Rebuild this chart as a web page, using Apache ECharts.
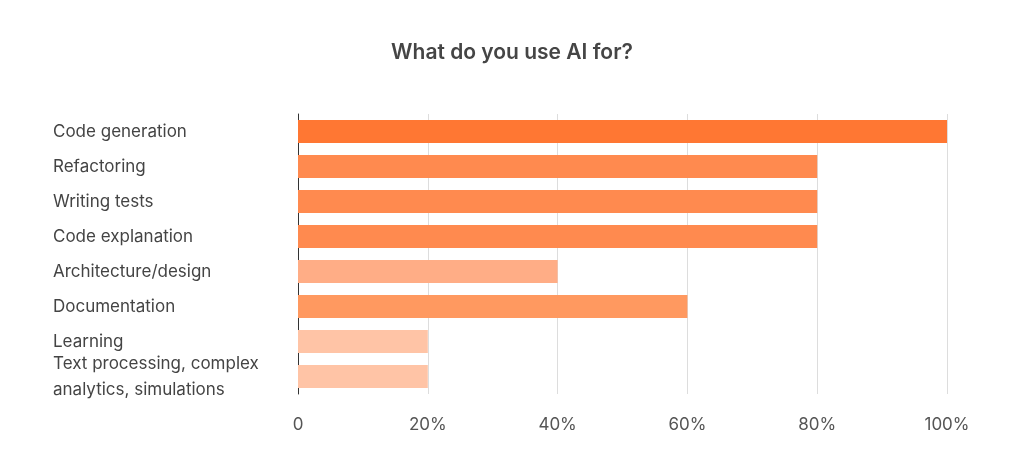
<!DOCTYPE html><html><head><meta charset="utf-8"><script src="https://cdn.jsdelivr.net/npm/echarts@6/dist/echarts.min.js"></script>
<style>html,body{margin:0;background:#fff}#c{width:1024px;height:474px}</style></head><body><div id="c"></div><script>
const categories=["Code generation","Refactoring","Writing tests","Code explanation","Architecture/design","Documentation","Learning","Text processing, complex\nanalytics, simulations"];
const values=[100,80,80,80,40,60,20,20];
function colorFor(v){return v>=100?'#ff7733':v>=80?'#ff8a4f':v>=60?'#ff9960':v>=40?'#ffad86':'#ffc4a6';}
const chart=echarts.init(document.getElementById('c'));
chart.setOption({
 animation:false,
 title:{text:'What do you use AI for?',left:'center',top:37,textStyle:{fontFamily:'Inter',fontSize:21,fontWeight:600,color:'#454545'}},
 grid:{left:298,right:77,top:114,bottom:80},
 xAxis:{type:'value',min:0,max:100,interval:20,axisLabel:{formatter:v=>v===0?'0':v+'%',fontFamily:'Inter',fontSize:17,color:'#555',margin:22},splitLine:{lineStyle:{color:'#ddd'}},axisLine:{show:false},axisTick:{show:false}},
 yAxis:{type:'category',inverse:true,data:categories,axisLine:{lineStyle:{color:'#333'}},axisTick:{show:false},axisLabel:{interval:0,hideOverlap:false,align:'left',margin:245,fontFamily:'Inter',fontSize:17,color:'#444',lineHeight:26}},
 series:[{type:'bar',barWidth:23,data:values.map(v=>({value:v,itemStyle:{color:colorFor(v)}}))}]
});
</script></body></html>
